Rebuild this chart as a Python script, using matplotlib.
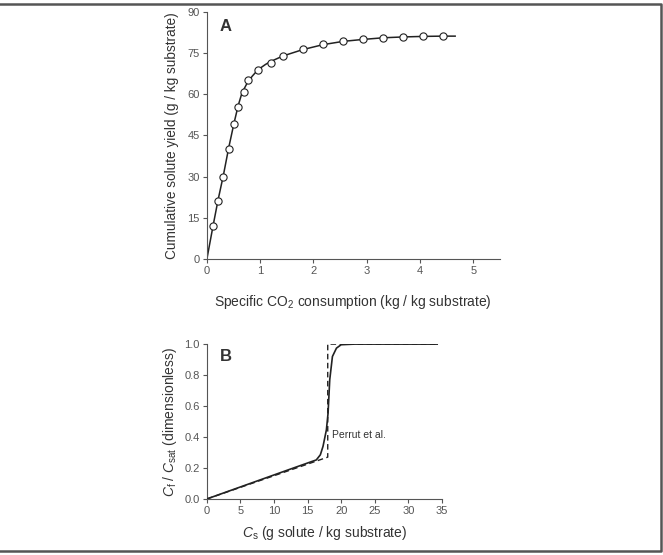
import numpy as np
import matplotlib.pyplot as plt
from matplotlib.lines import Line2D

plt.rcParams['font.family'] = ['Liberation Sans', 'DejaVu Sans']
plt.rcParams['mathtext.fontset'] = 'custom'
plt.rcParams['mathtext.rm'] = 'Liberation Sans'
plt.rcParams['mathtext.it'] = 'Liberation Sans:italic'

# panel A: cumulative yield vs specific CO2 consumption
co2 = [0.12, 0.21, 0.31, 0.41, 0.51, 0.59, 0.69, 0.77, 0.96, 1.20, 1.43,
       1.80, 2.18, 2.56, 2.93, 3.31, 3.68, 4.05, 4.43]
yld = [12.0, 21.0, 30.0, 40.0, 49.0, 55.2, 60.7, 65.2, 68.8, 71.5, 74.0,
       76.3, 78.1, 79.3, 80.0, 80.6, 80.9, 81.0, 81.1]
fit_x = [0.0, 0.12, 0.21, 0.31, 0.41, 0.51, 0.59, 0.66, 0.75, 0.85, 0.96,
         1.10, 1.20, 1.43, 1.80, 2.18, 2.56, 2.93, 3.31, 3.68, 4.05, 4.43, 4.66]
fit_y = [0.0, 12.5, 21.5, 30.5, 40.5, 49.5, 56.0, 60.5, 63.8, 66.5, 68.9,
         70.8, 71.9, 73.9, 76.2, 78.0, 79.2, 79.9, 80.5, 80.8, 81.0, 81.1, 81.1]

# panel B: Cf/Csat vs Cs
cs = [0, 4, 8, 12, 16.3, 16.9, 17.3, 17.8, 18.05, 18.3, 18.7, 19.3, 20.0, 22, 34.3]
cf = [0, 0.062, 0.124, 0.186, 0.252, 0.285, 0.34, 0.446, 0.554, 0.77, 0.92,
      0.974, 0.996, 1.0, 1.0]
perrut_x = [0, 18.0, 18.0, 34.3]
perrut_y = [0, 0.27, 1.0, 1.0]

txt = '#333333'
ln = '#222222'

fig = plt.figure(figsize=(6.63, 5.55), dpi=100)
# frame: top, right and bottom edges only
fig.lines.append(Line2D([0, 0.997, 0.997, 0], [0.992, 0.992, 0.007, 0.007],
                        transform=fig.transFigure, color='#555555', lw=1.8))


def style(ax):
    for s in ['top', 'right']:
        ax.spines[s].set_visible(False)
    for s in ['left', 'bottom']:
        ax.spines[s].set_color('#555555')
        ax.spines[s].set_linewidth(0.8)
    ax.tick_params(direction='out', length=3, width=0.8, color='#555555',
                   labelsize=8, labelcolor='#555555', pad=2)


axA = fig.add_axes([0.312, 0.533, 0.442, 0.446])
style(axA)
axA.plot(fit_x, fit_y, color=ln, lw=1.1, zorder=2)
axA.plot(co2, yld, 'o', ms=5.2, mfc='white', mec=ln, mew=0.8, zorder=3)
axA.set_xlim(0, 5.5)
axA.set_ylim(0, 90)
axA.set_xticks(range(6))
axA.set_yticks(np.arange(0, 91, 15))
axA.set_ylabel('Cumulative solute yield (g / kg substrate)', fontsize=9.8, color=txt, labelpad=6)
axA.set_xlabel('Specific CO$_2$ consumption (kg / kg substrate)', fontsize=10, color=txt, labelpad=12)
axA.text(0.045, 0.97, 'A', transform=axA.transAxes, fontsize=12, fontweight='bold',
         color=txt, va='top', ha='left')

axB = fig.add_axes([0.312, 0.101, 0.3545, 0.279])
style(axB)
axB.plot(perrut_x, perrut_y, color=ln, lw=1.0, ls=(0, (4, 2.5)), zorder=2)
axB.plot(cs, cf, color=ln, lw=1.2, zorder=3)
axB.text(18.7, 0.41, 'Perrut et al.', fontsize=7.5, color=txt, va='center')
axB.set_xlim(0, 35)
axB.set_ylim(0, 1.0)
axB.set_xticks(range(0, 36, 5))
axB.set_yticks(np.arange(0, 1.01, 0.2))
axB.yaxis.set_major_formatter(plt.FormatStrFormatter('%.1f'))
axB.set_ylabel('$C_\\mathrm{f}$ / $C_\\mathrm{sat}$ (dimensionless)', fontsize=10, color=txt, labelpad=4)
axB.set_xlabel('$C_\\mathrm{s}$ (g solute / kg substrate)', fontsize=10, color=txt, labelpad=6)
axB.text(0.057, 0.97, 'B', transform=axB.transAxes, fontsize=12, fontweight='bold',
         color=txt, va='top', ha='left')

fig.savefig('out.png', dpi=100)
